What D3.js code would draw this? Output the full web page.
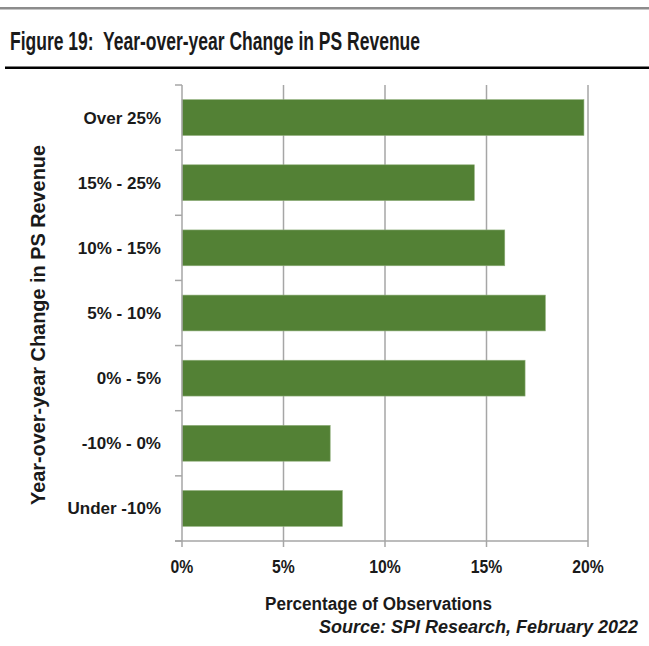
<!DOCTYPE html>
<html>
<head>
<meta charset="utf-8">
<script src="https://cdn.jsdelivr.net/npm/d3@7"></script>
<style>
  html, body { margin: 0; padding: 0; background: #fff; }
  svg { display: block; }
  text { font-family: "Liberation Sans", Arial, sans-serif; font-weight: bold; fill: #1a1a1a; white-space: pre; }
</style>
</head>
<body>
<svg id="chart" width="649" height="646"></svg>
<script>
// Change buckets, top to bottom
const categories = ["Over 25%", "15% - 25%", "10% - 15%", "5% - 10%", "0% - 5%", "-10% - 0%", "Under -10%"];
// Share of observations (%) in each bucket
const shares = [19.8, 14.4, 15.9, 17.9, 16.9, 7.3, 7.9];
const xTicks = [0, 5, 10, 15, 20];

const svg = d3.select("#chart");
const W = 649;

// Squeeze a text run horizontally to a given width (narrow-face look)
function fitWidth(sel, width) {
  sel.attr("textLength", width).attr("lengthAdjust", "spacingAndGlyphs");
}
function squeeze(sel, k) {
  sel.each(function () {
    const n = this.getComputedTextLength();
    d3.select(this).attr("textLength", n * k).attr("lengthAdjust", "spacingAndGlyphs");
  });
}

// Header rules and title
svg.append("rect").attr("x", 0).attr("y", 7).attr("width", W).attr("height", 2.5).attr("fill", "#8c8c8c");
svg.append("text").attr("x", 10).attr("y", 50).attr("font-size", 25)
  .text("Figure 19:  Year-over-year Change in PS Revenue").call(fitWidth, 410);
svg.append("rect").attr("x", 5).attr("y", 66.5).attr("width", W - 5).attr("height", 2.5).attr("fill", "#000");

const plot = { left: 182, right: 588, top: 85, bottom: 541 };

const x = d3.scaleLinear().domain([0, 20]).range([plot.left, plot.right]);
const y = d3.scaleBand().domain(categories).range([plot.top, plot.bottom]).paddingInner(0.45).paddingOuter(0.225);
const yEdges = d3.scaleLinear().domain([0, categories.length]).range([plot.top, plot.bottom]);

const grid = "#a6a6a6";

// Vertical gridlines
svg.append("g").selectAll("line").data(xTicks.slice(1)).join("line")
  .attr("x1", d => x(d)).attr("x2", d => x(d))
  .attr("y1", plot.top).attr("y2", plot.bottom)
  .attr("stroke", grid).attr("stroke-width", 1.5);

// Bars
svg.append("g").selectAll("rect").data(shares).join("rect")
  .attr("x", x(0))
  .attr("y", (d, i) => y(categories[i]))
  .attr("width", d => x(d) - x(0))
  .attr("height", y.bandwidth())
  .attr("fill", "#538135")
  .attr("stroke", "#8fae7a").attr("stroke-width", 0.6);

// Y axis line with category separators
svg.append("line").attr("x1", plot.left).attr("x2", plot.left)
  .attr("y1", plot.top).attr("y2", plot.bottom).attr("stroke", grid).attr("stroke-width", 1.5);
svg.append("g").selectAll("line").data(d3.range(categories.length + 1)).join("line")
  .attr("x1", plot.left - 7).attr("x2", plot.left)
  .attr("y1", d => yEdges(d)).attr("y2", d => yEdges(d))
  .attr("stroke", grid).attr("stroke-width", 1.5);

// X axis line and ticks
svg.append("line").attr("x1", plot.left - 7).attr("x2", plot.right)
  .attr("y1", plot.bottom).attr("y2", plot.bottom).attr("stroke", grid).attr("stroke-width", 1.5);
svg.append("g").selectAll("line").data(xTicks).join("line")
  .attr("x1", d => x(d)).attr("x2", d => x(d))
  .attr("y1", plot.bottom).attr("y2", plot.bottom + 6)
  .attr("stroke", grid).attr("stroke-width", 1.5);

// Tick labels
svg.append("g").selectAll("text").data(xTicks).join("text")
  .attr("x", d => x(d)).attr("y", 573)
  .attr("text-anchor", "middle").attr("font-size", 17.5)
  .text(d => d + "%").call(squeeze, 0.9);
svg.append("g").selectAll("text").data(categories).join("text")
  .attr("x", 161).attr("y", d => y(d) + y.bandwidth() / 2 + 6)
  .attr("text-anchor", "end").attr("font-size", 17)
  .text(d => d);

// Axis titles
svg.append("text").attr("x", 378.5).attr("y", 610).attr("text-anchor", "middle").attr("font-size", 17.5)
  .text("Percentage of Observations").call(fitWidth, 227);
svg.append("text").attr("transform", "translate(45,325) rotate(-90)")
  .attr("text-anchor", "middle").attr("font-size", 20.5)
  .text("Year-over-year Change in PS Revenue").call(fitWidth, 360);

// Source note
svg.append("text").attr("x", 638).attr("y", 633).attr("text-anchor", "end").attr("font-size", 19)
  .attr("font-style", "italic")
  .text("Source: SPI Research, February 2022").call(fitWidth, 319);
</script>
</body>
</html>
